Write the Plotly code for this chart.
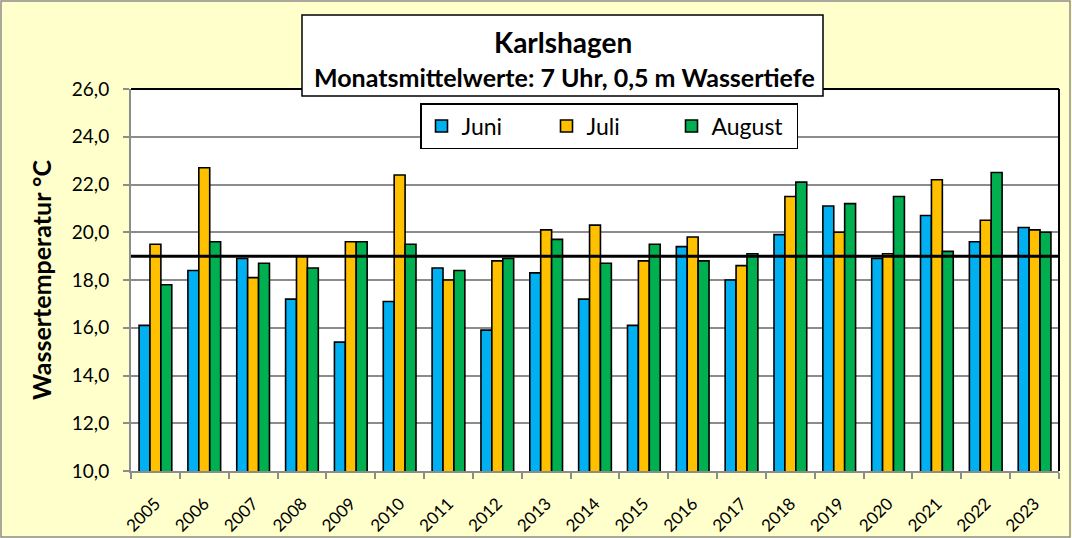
import plotly.graph_objects as go

years = [str(y) for y in range(2005, 2024)]
juni = [16.1, 18.4, 18.9, 17.2, 15.4, 17.1, 18.5, 15.9, 18.3, 17.2, 16.1, 19.4, 18.0, 19.9, 21.1, 18.9, 20.7, 19.6, 20.2]
juli = [19.5, 22.7, 18.1, 19.0, 19.6, 22.4, 18.0, 18.8, 20.1, 20.3, 18.8, 19.8, 18.6, 21.5, 20.0, 19.1, 22.2, 20.5, 20.1]
august = [17.8, 19.6, 18.7, 18.5, 19.6, 19.5, 18.4, 18.9, 19.7, 18.7, 19.5, 18.8, 19.1, 22.1, 21.2, 21.5, 19.2, 22.5, 20.0]
reference_value = 19.0
y_ticks = [10, 12, 14, 16, 18, 20, 22, 24, 26]
y_tick_labels = ["10,0", "12,0", "14,0", "16,0", "18,0", "20,0", "22,0", "24,0", "26,0"]

FONT = "Lato"
W, H = 1072, 538
L, R, T, B = 131, 13, 89, 67
PW = W - L - R
PH = H - T - B

def px_x(px):
    return (px - L) / PW

def px_y(py):
    return (H - B - py) / PH

fig = go.Figure()
for name, vals, col in [("Juni", juni, "#00B0F0"), ("Juli", juli, "#FFC000"), ("August", august, "#00B050")]:
    fig.add_trace(go.Bar(x=years, y=vals, name=name, marker=dict(color=col, line=dict(color="black", width=1.6))))

shapes = [
    # reference line
    dict(type="line", xref="paper", yref="y", x0=0, x1=1, y0=reference_value, y1=reference_value,
         line=dict(color="black", width=3), layer="above"),
    # top and right border
    dict(type="line", xref="paper", yref="paper", x0=0, x1=1, y0=1, y1=1, line=dict(color="black", width=2)),
    dict(type="line", xref="paper", yref="paper", x0=1, x1=1, y0=0, y1=1, line=dict(color="black", width=2)),
    # title box
    dict(type="rect", xref="paper", yref="paper", x0=px_x(302), x1=px_x(823), y0=px_y(96), y1=px_y(15),
         fillcolor="white", line=dict(color="black", width=1.5), layer="above"),
    # outer border
    dict(type="rect", xref="paper", yref="paper", x0=px_x(1), x1=px_x(W - 2), y0=px_y(H - 1), y1=px_y(1),
         line=dict(color="#8C8C8C", width=1.5), fillcolor="rgba(0,0,0,0)", layer="below"),
]

annotations = [
    dict(text="<b>Karlshagen</b>", xref="paper", yref="paper", x=px_x(563), y=px_y(42), showarrow=False,
         font=dict(family=FONT, size=28, color="black"), xanchor="center", yanchor="middle"),
    dict(text="<b>Monatsmittelwerte: 7 Uhr, 0,5 m Wassertiefe</b>", xref="paper", yref="paper", x=px_x(564), y=px_y(77),
         showarrow=False, font=dict(family=FONT, size=25, color="black"), xanchor="center", yanchor="middle"),
    dict(text="<b>Wassertemperatur °C</b>", xref="paper", yref="paper", x=px_x(41), y=px_y(280), textangle=-90,
         showarrow=False, font=dict(family=FONT, size=25, color="black"), xanchor="center", yanchor="middle"),
]

fig.update_layout(
    width=W, height=H,
    margin=dict(l=L, r=R, t=T, b=B, autoexpand=False),
    paper_bgcolor="#FFFFCC",
    plot_bgcolor="white",
    barmode="group",
    bargap=0.33,
    bargroupgap=0,
    font=dict(family=FONT, size=16, color="black"),
    shapes=shapes,
    annotations=annotations,
    showlegend=True,
    legend=dict(orientation="h", x=px_x(609), y=px_y(103), xanchor="center", yanchor="top",
                bgcolor="white", bordercolor="black", borderwidth=1.5,
                font=dict(family=FONT, size=23, color="black"),
                entrywidth=80, entrywidthmode="pixels", itemwidth=30, traceorder="normal"),
    xaxis=dict(type="category", tickangle=-45, tickfont=dict(family=FONT, size=17), automargin=False,
               showline=True, linecolor="#8C8C8C", linewidth=2,
               ticks="outside", tickcolor="#8C8C8C", ticklen=6, tickwidth=1.5, tickson="boundaries",
               ticklabelstandoff=14, showgrid=False),
    yaxis=dict(range=[10, 26], tickvals=y_ticks, ticktext=y_tick_labels, tickfont=dict(family=FONT, size=19),
               automargin=False,
               showline=True, linecolor="#8C8C8C", linewidth=2,
               ticks="outside", tickcolor="#8C8C8C", ticklen=6, tickwidth=1.5, ticklabelstandoff=10,
               showgrid=True, gridcolor="#8C8C8C", gridwidth=1.5, zeroline=False),
)

fig.write_html("out.html", config={"displayModeBar": False},
               post_script="document.body.style.margin='0';document.body.style.padding='0';")
